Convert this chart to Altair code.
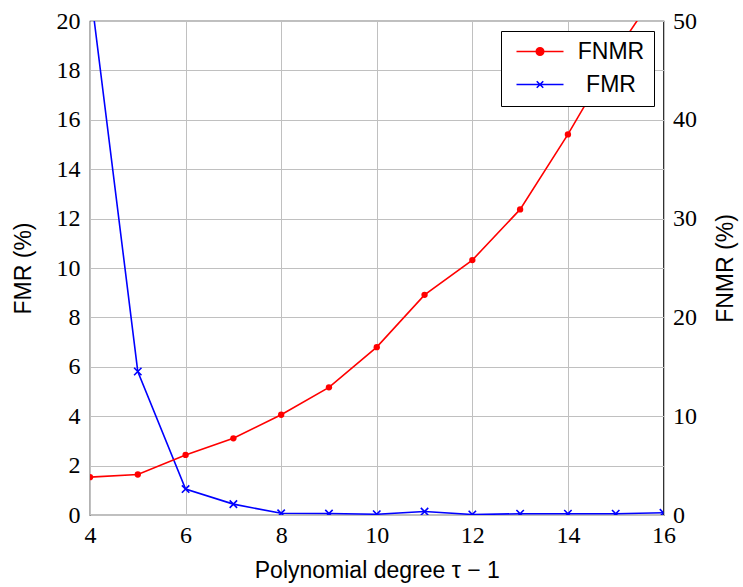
import altair as alt
import pandas as pd

# ---- data ----
degree = [4, 5, 6, 7, 8, 9, 10, 11, 12, 13, 14, 15, 16]
fnmr = [3.83, 4.10, 6.08, 7.76, 10.15, 12.92, 16.99, 22.28, 25.8, 30.93, 38.52, 46.8, 54.0]
fmr = [21.4, 5.81, 1.05, 0.44, 0.07, 0.06, 0.03, 0.14, 0.02, 0.05, 0.05, 0.05, 0.09]
series_names = ["FNMR", "FMR"]
series_colors = ["#ff0000", "#0000ff"]
x_ticks = [4, 6, 8, 10, 12, 14, 16]
fmr_ticks = [0, 2, 4, 6, 8, 10, 12, 14, 16, 18, 20]
fnmr_ticks = [0, 10, 20, 30, 40, 50]

df_fnmr = pd.DataFrame({"degree": degree, "value": fnmr, "series": "FNMR"})
df_fmr = pd.DataFrame({"degree": degree, "value": fmr, "series": "FMR"})

# legend glyphs: line with marker (unit = sqrt(size)/2 px)
sym_fnmr = "M-1,0L8.4,0M2.95,0A0.75,0.75,0,1,1,4.45,0A0.75,0.75,0,1,1,2.95,0Z"
sym_fmr = "M-1,0L8.4,0M3.05,-0.65L4.35,0.65M3.05,0.65L4.35,-0.65"
x_marker = "M-1,-1L1,1M-1,1L1,-1"

SERIF = "Liberation Serif"
SANS = "Liberation Sans"
W, H = 573.5, 494

x_enc = alt.X(
    "degree:Q",
    scale=alt.Scale(domain=[4, 16], nice=False, zero=False),
    axis=alt.Axis(
        values=x_ticks, grid=True, labelFont=SERIF,
        labelPadding=8,
        title="Polynomial degree τ − 1", titleY=62,
        titleBaseline="alphabetic",
    ),
)

y_left = alt.Y(
    "value:Q",
    scale=alt.Scale(domain=[0, 20], nice=False),
    axis=alt.Axis(
        values=fmr_ticks, grid=True, labelPadding=10, labelFont=SERIF,
        title="FMR (%)", titleAngle=270, titleX=-67, titleY=H / 2,
        titleBaseline="middle", titleAlign="center",
    ),
)

y_right = alt.Y(
    "value:Q",
    scale=alt.Scale(domain=[0, 50], nice=False),
    axis=alt.Axis(
        orient="right", values=fnmr_ticks, grid=False, labelPadding=9, labelFont=SERIF,
        title="FNMR (%)", titleAngle=270, titleX=61.5, titleY=H / 2,
        titleBaseline="middle", titleAlign="center",
    ),
)

legend = alt.Legend(
    title=None, orient="top-right", offset=10, padding=9,
    strokeColor="black", fillColor="white", cornerRadius=0,
    labelFont=SANS, labelFontSize=23, labelColor="black",
    labelAlign="center", labelOffset=78, rowPadding=9,
    symbolSize=100, symbolStrokeWidth=1.6, symbolOpacity=1,
)

fmr_base = alt.Chart(df_fmr)
fmr_line = fmr_base.mark_line(color="#0000ff", strokeWidth=1.6, clip=True).encode(x=x_enc, y=y_left)
fmr_pts = fmr_base.mark_point(
    shape=x_marker, color="#0000ff", size=55, strokeWidth=1.6, opacity=1, clip=True
).encode(x=x_enc, y=y_left)
legend_layer = fmr_base.mark_point(opacity=0, clip=True).encode(
    x=x_enc, y=y_left,
    fill=alt.Fill("series:N", scale=alt.Scale(domain=series_names, range=series_colors), legend=legend),
    stroke=alt.Stroke("series:N", scale=alt.Scale(domain=series_names, range=series_colors), legend=legend),
    shape=alt.Shape("series:N", scale=alt.Scale(domain=series_names, range=[sym_fnmr, sym_fmr]), legend=legend),
)

fnmr_base = alt.Chart(df_fnmr)
fnmr_line = fnmr_base.mark_line(color="#ff0000", strokeWidth=1.6, clip=True).encode(x=x_enc, y=y_right)
fnmr_pts = fnmr_base.mark_circle(color="#ff0000", size=40, opacity=1, clip=True).encode(x=x_enc, y=y_right)

left = alt.layer(fmr_line, fmr_pts, legend_layer)
right = alt.layer(fnmr_line, fnmr_pts)

chart = (
    alt.layer(left, right)
    .resolve_scale(y="independent")
    .properties(
        width=W, height=H,
        autosize=alt.AutoSizeParams(type="none"),
        padding={"left": 90, "top": 21, "right": 743 - 90 - W, "bottom": 587 - 21 - H},
        background="white",
    )
    .configure_view(stroke="black", strokeWidth=1.2)
    .configure_axis(
        gridColor="#c0c0c0", gridWidth=1, domain=False, ticks=False, tickSize=0,
        labelFlush=False, labelOverlap=False,
        labelFont=SERIF, labelFontSize=24, labelColor="black",
        titleFont=SANS, titleFontSize=23, titleFontWeight="normal", titleColor="black",
    )
)

chart.save("out.html", embed_options={"renderer": "svg", "actions": False})
